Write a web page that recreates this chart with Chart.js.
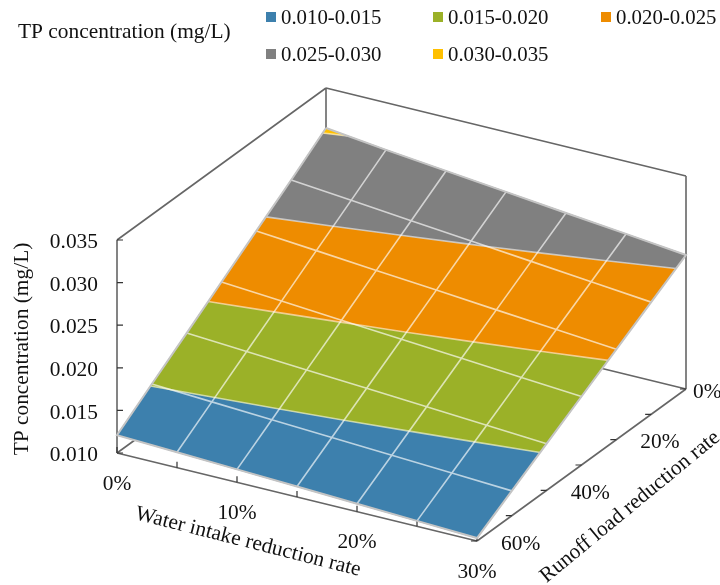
<!DOCTYPE html>
<html>
<head>
<meta charset="utf-8">
<style>
  html, body { margin: 0; padding: 0; background: #fff; }
  canvas { display: block; }
</style>
<script src="https://cdn.jsdelivr.net/npm/chart.js@4"></script>
</head>
<body>
<canvas id="surfaceChart" width="720" height="585"></canvas>
<script>
var waterRates = [0, 5, 10, 15, 20, 25, 30];
var runoffRates = [0, 10, 20, 30, 40, 50, 60];
// one row per runoff rate, one column per water rate
var tpValues = [
    [0.03030, 0.02946, 0.02871, 0.02797, 0.02722, 0.02648, 0.02573],
    [0.02718, 0.02651, 0.02584, 0.02518, 0.02451, 0.02384, 0.02317],
    [0.02417, 0.02358, 0.02298, 0.02239, 0.02179, 0.02120, 0.02060],
    [0.02115, 0.02063, 0.02011, 0.01960, 0.01908, 0.01856, 0.01804],
    [0.01813, 0.01769, 0.01725, 0.01681, 0.01636, 0.01592, 0.01548],
    [0.01512, 0.01475, 0.01438, 0.01402, 0.01365, 0.01328, 0.01291],
    [0.01210, 0.01181, 0.01152, 0.01123, 0.01093, 0.01064, 0.01035]
];

var bandLabels = ['0.010-0.015', '0.015-0.020', '0.020-0.025', '0.025-0.030', '0.030-0.035'];
var bandLimits = [0.010, 0.015, 0.020, 0.025, 0.030, 0.035];
var bandColors = ['#3d80ad', '#9bb128', '#ee8c00', '#808080', '#ffc000'];

var tpTicks = [0.010, 0.015, 0.020, 0.025, 0.030, 0.035];
var waterLabels = [0, 10, 20, 30];
var runoffLabels = [0, 20, 40, 60];

var chartFont = '"Liberation Serif", "Times New Roman", serif';

// parallel projection of the 3d box onto the flat x/y scales
function project(water, runoff, tp) {
    var u = water / 30;
    var v = (60 - runoff) / 60;
    var w = (tp - 0.010) / 0.025;
    return { x: 117 + 360 * u + 209 * v, y: 453 + 88 * u - 152 * v - 213 * w };
}

function pushLine(list, from, to) {
    list.push(from, to, { x: null, y: null });
}

// keep the part of a cell on one side of a tp level
function clipCell(poly, level, keepAbove) {
    var out = [];
    for (let i = 0; i < poly.length; i++) {
        let a = poly[i];
        let b = poly[(i + 1) % poly.length];
        let aIn = keepAbove ? a.tp >= level : a.tp <= level;
        let bIn = keepAbove ? b.tp >= level : b.tp <= level;
        if (aIn) out.push(a);
        if (aIn !== bIn) {
            let t = (level - a.tp) / (b.tp - a.tp);
            out.push({
                water: a.water + (b.water - a.water) * t,
                runoff: a.runoff + (b.runoff - a.runoff) * t,
                tp: level
            });
        }
    }
    return out;
}

function cellCorners(r, c) {
    return [
        { water: waterRates[c], runoff: runoffRates[r], tp: tpValues[r][c] },
        { water: waterRates[c + 1], runoff: runoffRates[r], tp: tpValues[r][c + 1] },
        { water: waterRates[c + 1], runoff: runoffRates[r + 1], tp: tpValues[r + 1][c + 1] },
        { water: waterRates[c], runoff: runoffRates[r + 1], tp: tpValues[r + 1][c] }
    ];
}

function buildBand(lo, hi) {
    var pts = [];
    for (let r = 0; r < runoffRates.length - 1; r++) {
        for (let c = 0; c < waterRates.length - 1; c++) {
            let poly = clipCell(clipCell(cellCorners(r, c), lo, true), hi, false);
            if (poly.length < 3) continue;
            for (let p of poly) pts.push(project(p.water, p.runoff, p.tp));
            let first = poly[0];
            pts.push(project(first.water, first.runoff, first.tp));
            pts.push({ x: null, y: null });
        }
    }
    return pts;
}

function buildContours() {
    var pts = [];
    for (let k = 1; k < bandLimits.length - 1; k++) {
        for (let r = 0; r < runoffRates.length - 1; r++) {
            for (let c = 0; c < waterRates.length - 1; c++) {
                let on = clipCell(cellCorners(r, c), bandLimits[k], true).filter(function (p) {
                    return p.tp === bandLimits[k];
                });
                if (on.length === 2) {
                    pushLine(pts, project(on[0].water, on[0].runoff, on[0].tp), project(on[1].water, on[1].runoff, on[1].tp));
                }
            }
        }
    }
    return pts;
}

function buildGrid() {
    var pts = [];
    var nr = runoffRates.length, nc = waterRates.length;
    for (let r = 1; r < nr - 1; r++) {
        for (let c = 0; c < nc; c++) pts.push(project(waterRates[c], runoffRates[r], tpValues[r][c]));
        pts.push({ x: null, y: null });
    }
    for (let c = 1; c < nc - 1; c++) {
        for (let r = 0; r < nr; r++) pts.push(project(waterRates[c], runoffRates[r], tpValues[r][c]));
        pts.push({ x: null, y: null });
    }
    return pts;
}

function buildOutline() {
    var pts = [];
    var nr = runoffRates.length, nc = waterRates.length;
    for (let c = 0; c < nc; c++) pts.push(project(waterRates[c], runoffRates[0], tpValues[0][c]));
    for (let r = 1; r < nr; r++) pts.push(project(waterRates[nc - 1], runoffRates[r], tpValues[r][nc - 1]));
    for (let c = nc - 2; c >= 0; c--) pts.push(project(waterRates[c], runoffRates[nr - 1], tpValues[nr - 1][c]));
    for (let r = nr - 2; r >= 0; r--) pts.push(project(waterRates[0], runoffRates[r], tpValues[r][0]));
    return pts;
}

function buildBox() {
    var pts = [];
    // floor
    pushLine(pts, project(0, 60, 0.010), project(30, 60, 0.010));
    pushLine(pts, project(30, 60, 0.010), project(30, 0, 0.010));
    pushLine(pts, project(30, 0, 0.010), project(0, 0, 0.010));
    pushLine(pts, project(0, 0, 0.010), project(0, 60, 0.010));
    // walls
    pushLine(pts, project(0, 60, 0.010), project(0, 60, 0.035));
    pushLine(pts, project(0, 60, 0.035), project(0, 0, 0.035));
    pushLine(pts, project(0, 0, 0.035), project(30, 0, 0.035));
    pushLine(pts, project(0, 0, 0.035), project(0, 0, 0.010));
    pushLine(pts, project(30, 0, 0.035), project(30, 0, 0.010));
    return pts;
}

function buildTicks() {
    var pts = [];
    for (let t of tpTicks) {
        let p = project(0, 60, t);
        pushLine(pts, p, { x: p.x + 6, y: p.y });
    }
    for (let w of waterRates) {
        let p = project(w, 60, 0.010);
        pushLine(pts, p, { x: p.x, y: p.y - 6 });
    }
    for (let r of runoffRates) {
        let p = project(30, r, 0.010);
        pushLine(pts, p, { x: p.x - 6, y: p.y });
    }
    return pts;
}

var datasets = [];
datasets.push({
    label: 'box', data: buildBox(), showLine: true, pointRadius: 0,
    borderColor: '#666666', borderWidth: 1.6, order: 20
});
datasets.push({
    label: 'ticks', data: buildTicks(), showLine: true, pointRadius: 0,
    borderColor: '#333333', borderWidth: 1.2, order: 19
});
for (let i = 0; i < bandLabels.length; i++) {
    datasets.push({
        label: bandLabels[i], data: buildBand(bandLimits[i], bandLimits[i + 1]),
        showLine: true, pointRadius: 0, polygon: true,
        backgroundColor: bandColors[i], borderColor: bandColors[i], borderWidth: 0.8, order: 10 - i
    });
}
datasets.push({
    label: 'contours', data: buildContours(), showLine: true, pointRadius: 0,
    borderColor: 'rgba(255,255,255,0.55)', borderWidth: 1.6, order: 3
});
datasets.push({
    label: 'grid', data: buildGrid(), showLine: true, pointRadius: 0,
    borderColor: 'rgba(255,255,255,0.65)', borderWidth: 1.6, order: 2
});
datasets.push({
    label: 'outline', data: buildOutline(), showLine: true, pointRadius: 0,
    borderColor: '#c4c4c4', borderWidth: 2, order: 1
});

// the line element only strokes, so fill each band's cells before it draws
var polygonFill = {
    id: 'polygonFill',
    beforeDatasetDraw: function (chart, args) {
        var ds = chart.data.datasets[args.index];
        if (!ds.polygon) return;
        var ctx = chart.ctx;
        ctx.save();
        ctx.fillStyle = ds.backgroundColor;
        ctx.beginPath();
        var fresh = true;
        for (let pt of args.meta.data) {
            if (pt.skip) { fresh = true; continue; }
            if (fresh) ctx.moveTo(pt.x, pt.y);
            else ctx.lineTo(pt.x, pt.y);
            fresh = false;
        }
        ctx.fill();
        ctx.restore();
    }
};

function drawText(ctx, text, x, y, align, angle) {
    ctx.save();
    ctx.translate(x, y);
    ctx.rotate((angle || 0) * Math.PI / 180);
    ctx.textAlign = align;
    ctx.textBaseline = 'middle';
    ctx.fillText(text, 0, 0);
    ctx.restore();
}

// axis labels and the legend block
var chartText = {
    id: 'chartText',
    afterDraw: function (chart) {
        var ctx = chart.ctx;
        var xs = chart.scales.x, ys = chart.scales.y;
        function at(p) { return { x: xs.getPixelForValue(p.x), y: ys.getPixelForValue(p.y) }; }
        ctx.save();
        ctx.fillStyle = '#111';
        ctx.font = '21.4px ' + chartFont;

        for (let t of tpTicks) {
            let p = at(project(0, 60, t));
            drawText(ctx, t.toFixed(3), p.x - 19, p.y + 2.5, 'right');
        }
        for (let w of waterLabels) {
            let p = at(project(w, 60, 0.010));
            drawText(ctx, w + '%', p.x, p.y + 31, 'center');
        }
        for (let r of runoffLabels) {
            let p = at(project(30, r, 0.010));
            drawText(ctx, r + '%', p.x + (r === 0 ? 7 : 24), p.y + 3, 'left');
        }

        drawText(ctx, 'TP concentration (mg/L)', 22, 349, 'center', -90);
        drawText(ctx, 'Water intake reduction rate', 248, 542, 'center', 14.2);
        drawText(ctx, 'Runoff load reduction rate', 630, 507, 'center', -39.5);

        drawText(ctx, 'TP concentration (mg/L)', 18, 32, 'left');
        ctx.font = '20.8px ' + chartFont;
        var legendX = [266, 433, 601];
        var legendY = [17, 54];
        for (let i = 0; i < bandLabels.length; i++) {
            let lx = legendX[i % 3], ly = legendY[Math.floor(i / 3)];
            ctx.fillStyle = bandColors[i];
            ctx.fillRect(lx, ly - 5, 10, 10);
            ctx.fillStyle = '#111';
            drawText(ctx, bandLabels[i], lx + 15, ly + 2, 'left');
        }
        ctx.restore();
    }
};

new Chart(document.getElementById('surfaceChart'), {
    type: 'scatter',
    data: { datasets: datasets },
    plugins: [polygonFill, chartText],
    options: {
        responsive: false,
        animation: false,
        layout: { padding: 0 },
        plugins: { legend: { display: false }, tooltip: { enabled: false } },
        scales: {
            x: { type: 'linear', min: 0, max: 720, display: false },
            y: { type: 'linear', min: 0, max: 585, reverse: true, display: false }
        }
    }
});
</script>
</body>
</html>
